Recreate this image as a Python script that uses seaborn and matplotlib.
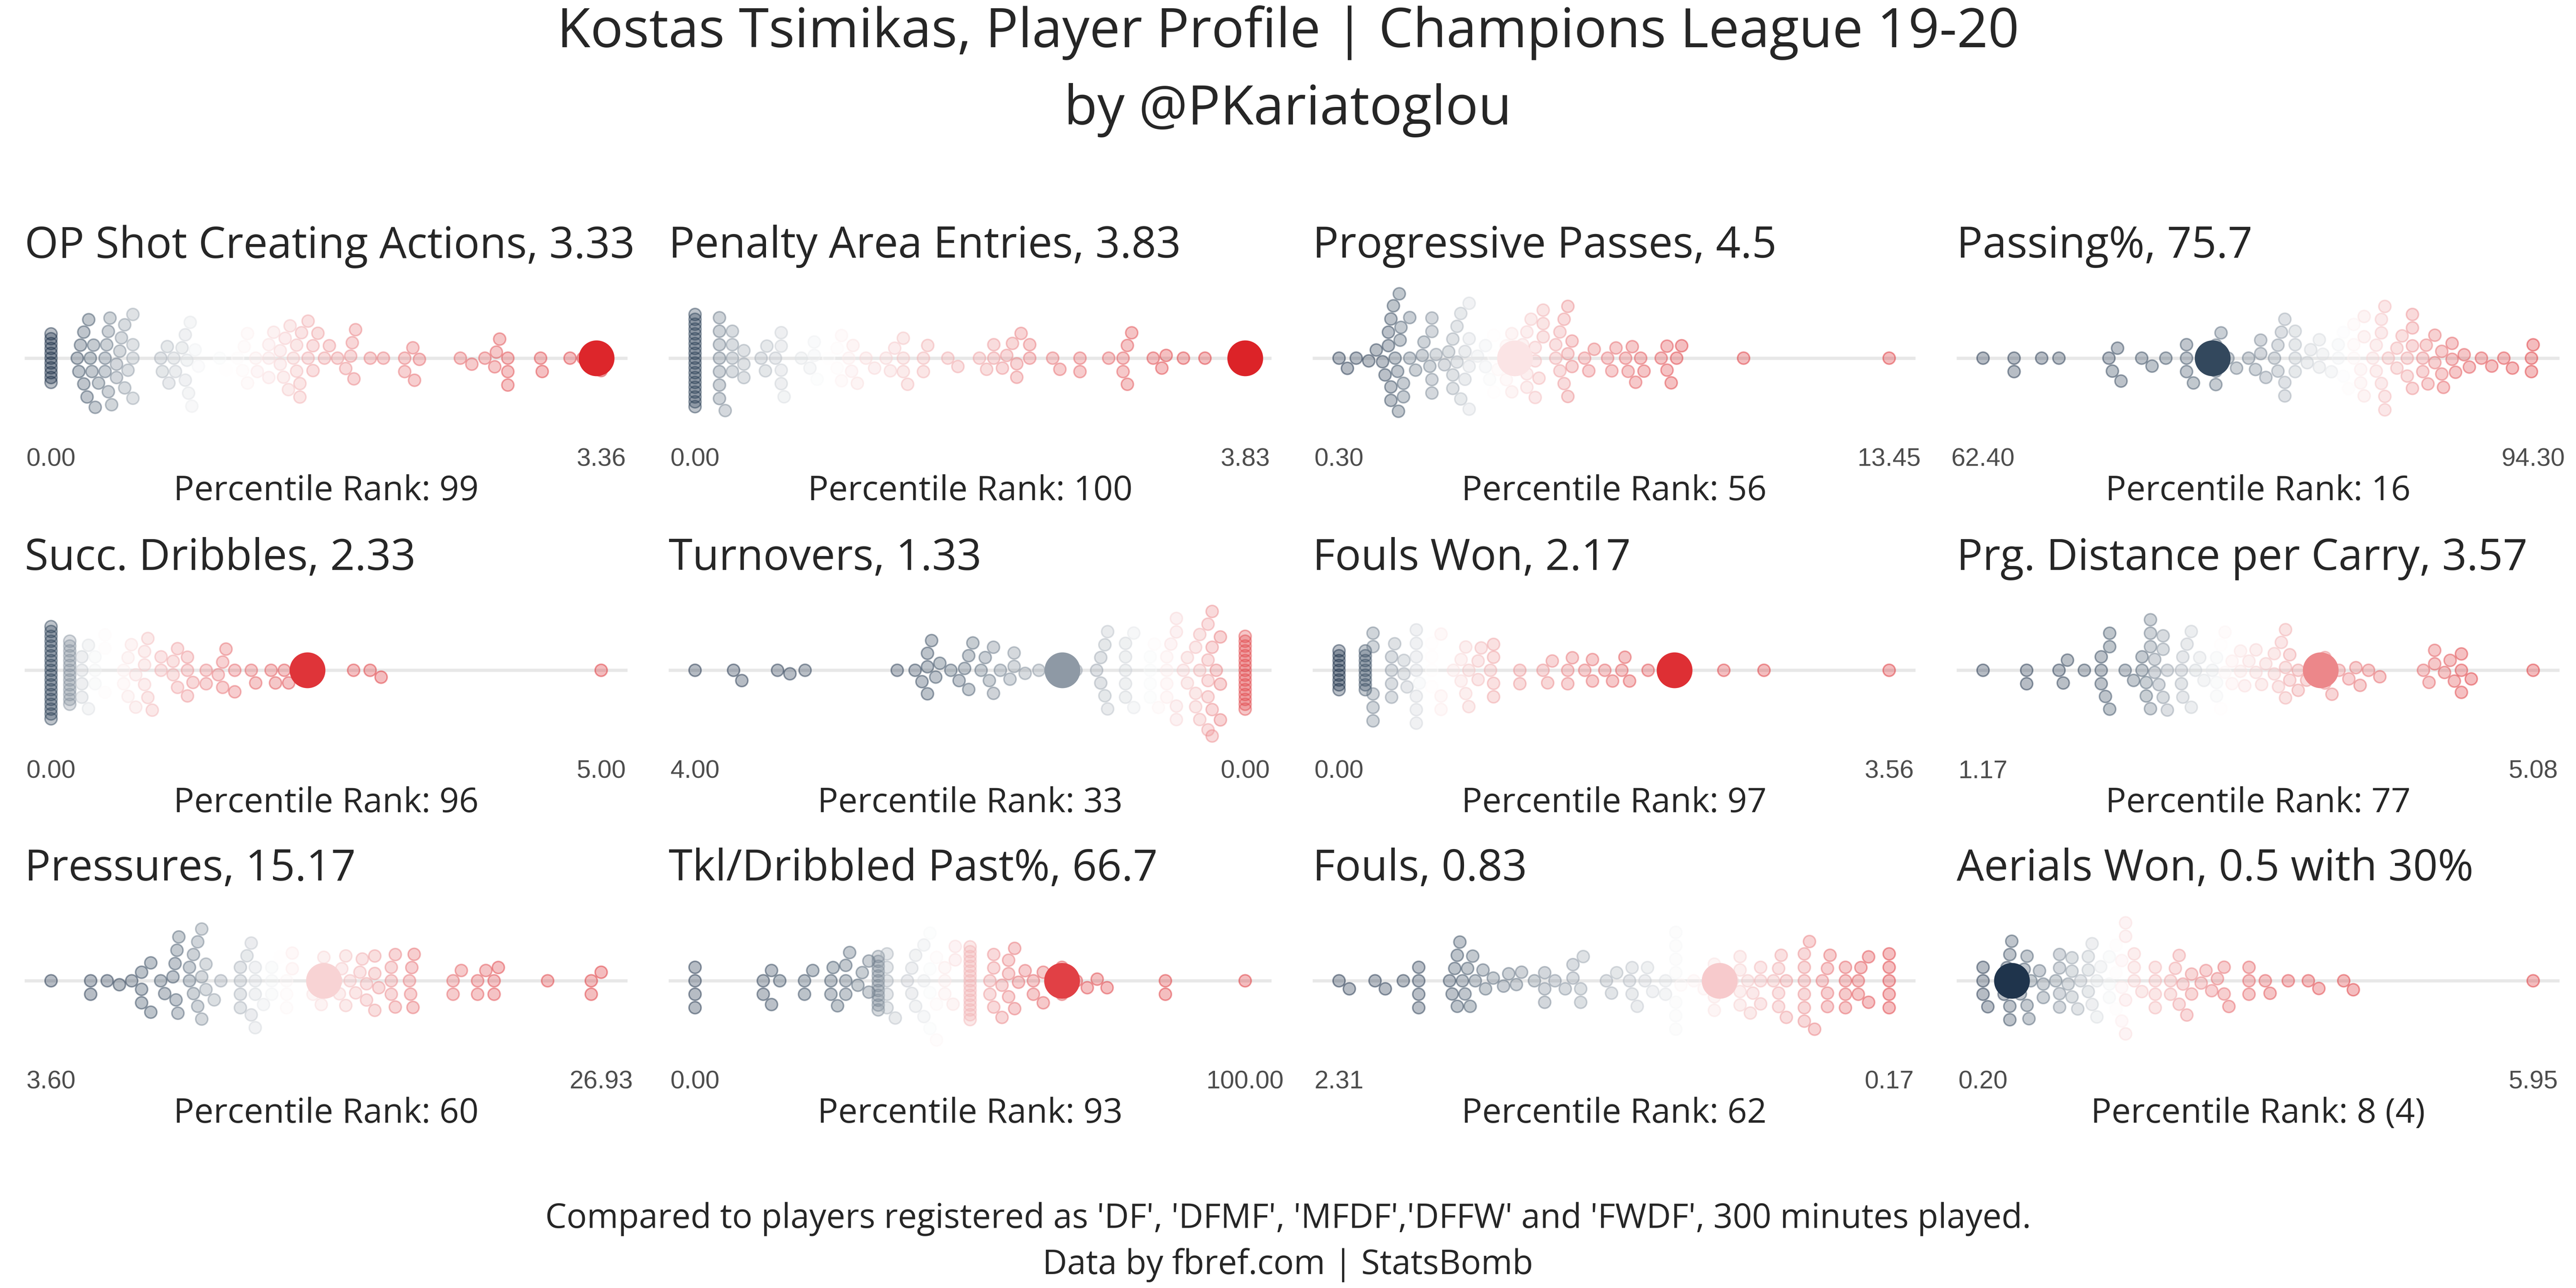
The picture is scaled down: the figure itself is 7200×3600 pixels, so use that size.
import numpy as np
import pandas as pd
import matplotlib
matplotlib.use("Agg")
import matplotlib.pyplot as plt
import seaborn as sns
from matplotlib.colors import LinearSegmentedColormap

# ------------------------------------------------------------------
# Data (values per 90 read off the reference swarms)
# ------------------------------------------------------------------
metrics = ["OP Shot Creating Actions", "Penalty Area Entries", "Progressive Passes",
           "Passing%", "Succ. Dribbles", "Turnovers", "Fouls Won",
           "Prg. Distance per Carry", "Pressures", "Tkl/Dribbled Past%", "Fouls",
           "Aerials Won"]
player_values = [3.33, 3.83, 4.5, 75.7, 2.33, 1.33, 2.17, 3.57, 15.17, 66.7, 0.83, 0.5]
title_extra = ["", "", "", "", "", "", "", "", "", "", "", " with 30%"]
rank_values = [99, 100, 56, 16, 96, 33, 97, 77, 60, 93, 62, 8]
rank_labels = ["99", "100", "56", "16", "96", "33", "97", "77", "60", "93", "62", "8 (4)"]
lower_is_better = [False, False, False, False, False, True,
                   False, False, False, False, True, False]

op_sca = [0.00, 0.00, 0.00, 0.00, 0.00, 0.00, 0.00, 0.00, 0.00, 0.00, 0.00,
          0.16, 0.17, 0.18, 0.20, 0.20, 0.22, 0.23, 0.24, 0.25, 0.26, 0.27, 0.29,
          0.33, 0.33, 0.34, 0.35, 0.35, 0.36, 0.37, 0.40, 0.40, 0.42, 0.43, 0.45,
          0.45, 0.47, 0.50, 0.50, 0.50, 0.50,
          0.67, 0.68, 0.71, 0.72, 0.75, 0.76, 0.80, 0.82, 0.82, 0.83, 0.84, 0.85,
          0.86, 0.88, 0.90,
          1.03, 1.07, 1.14, 1.17, 1.18, 1.20, 1.20, 1.25, 1.26,
          1.33, 1.33, 1.33, 1.36, 1.40, 1.40, 1.42, 1.43, 1.45, 1.46, 1.48, 1.50,
          1.50, 1.52, 1.52, 1.53, 1.57, 1.57, 1.60, 1.60,
          1.63, 1.67, 1.70, 1.75, 1.80, 1.83, 1.84, 1.85, 1.86, 1.95,
          2.03, 2.16, 2.16, 2.21, 2.22, 2.25,
          2.50, 2.57, 2.65, 2.71, 2.72, 2.74, 2.79, 2.79, 2.79,
          2.99, 3.00, 3.17, 3.25, 3.33, 3.36]

pen_area = [0.00, 0.00, 0.00, 0.00, 0.00, 0.00, 0.00, 0.00, 0.00, 0.00,
            0.00, 0.00, 0.00, 0.00, 0.00, 0.00, 0.00, 0.00, 0.00, 0.00,
            0.17, 0.17, 0.17, 0.17, 0.17, 0.17, 0.17, 0.21, 0.26, 0.26, 0.26, 0.26,
            0.34, 0.34, 0.34,
            0.46, 0.49, 0.50, 0.56, 0.60, 0.60, 0.60, 0.60, 0.62,
            0.74, 0.80, 0.83, 0.83, 0.85, 0.93, 0.99, 0.99, 1.02, 1.02, 1.07, 1.09,
            1.10, 1.13, 1.19,
            1.25, 1.33, 1.36, 1.39, 1.45, 1.45, 1.45, 1.48, 1.59, 1.59, 1.62,
            1.76, 1.83,
            1.98, 2.03, 2.08, 2.08, 2.14, 2.17, 2.21, 2.24, 2.24, 2.27, 2.33, 2.33,
            2.49, 2.54, 2.68, 2.68,
            2.88, 2.98, 2.98, 3.01, 3.01, 3.04,
            3.19, 3.25, 3.28, 3.40, 3.55, 3.83]

prog_passes = [0.30, 0.50, 0.71, 1.01,
               1.19, 1.34, 1.40, 1.48, 1.48, 1.54, 1.54, 1.54, 1.60, 1.64,
               1.70, 1.72, 1.74, 1.76, 1.78, 1.84, 1.84,
               1.99, 1.99, 2.13, 2.29, 2.33, 2.47, 2.52, 2.52, 2.52, 2.52, 2.62,
               2.82, 2.92, 3.02, 3.02, 3.02,
               3.12, 3.12, 3.21, 3.21, 3.31, 3.31, 3.41, 3.41, 3.41, 3.41, 3.61,
               3.80, 3.80, 3.90, 4.00, 4.00, 4.00, 4.10,
               4.30, 4.30, 4.30, 4.43, 4.43, 4.50, 4.69, 4.69, 4.79, 4.79, 4.79, 4.89,
               4.99, 4.99, 4.99, 5.08, 5.18, 5.18, 5.18,
               5.48, 5.48, 5.58, 5.58, 5.68, 5.68, 5.77, 5.77, 5.77, 5.87, 5.87,
               6.17, 6.27, 6.40,
               6.72, 6.82, 6.92, 7.15, 7.21, 7.31, 7.39, 7.51, 7.59,
               8.00, 8.14, 8.14, 8.24, 8.37, 8.49, 9.97, 13.45]

passing_pct = [62.4, 64.2, 64.2, 65.8, 66.8, 69.7, 69.9, 70.2, 70.4, 71.6, 72.2,
               73.0, 74.2, 74.2, 74.2, 74.6, 75.7, 75.9, 75.9, 75.9, 76.2, 76.6,
               77.1, 77.8, 78.2, 78.5, 78.5, 78.8, 79.3, 79.5, 79.5, 79.7, 79.9,
               79.9, 79.9, 80.5, 80.5, 80.5, 80.5, 81.2, 81.4, 81.9, 81.9, 82.1,
               82.6, 83.0, 83.0, 83.3, 83.3, 83.6, 83.9, 83.9, 83.9, 84.3, 84.3,
               84.5, 84.5, 84.5, 85.0, 85.2, 85.2, 85.5, 85.5, 85.5, 85.7, 85.7,
               85.7, 85.9, 86.4, 86.4, 86.7, 87.0, 87.0, 87.3, 87.3, 87.3, 87.3,
               87.9, 87.9, 88.1, 88.2, 88.6, 88.6, 89.0, 89.0, 89.1, 89.6, 89.6,
               89.8, 90.3, 90.6, 91.3, 91.9, 92.6, 93.1, 94.2, 94.2, 94.3]

succ_dribbles = [0.00, 0.00, 0.00, 0.00, 0.00, 0.00, 0.00, 0.00, 0.00, 0.00,
                 0.00, 0.00, 0.00, 0.00, 0.00, 0.00, 0.00, 0.00, 0.00, 0.00,
                 0.17, 0.17, 0.17, 0.17, 0.17, 0.17, 0.17, 0.17, 0.17, 0.17,
                 0.17, 0.17, 0.17, 0.17,
                 0.28, 0.28, 0.28, 0.28, 0.34, 0.34, 0.40, 0.40, 0.40, 0.49, 0.49, 0.49,
                 0.66, 0.66, 0.70, 0.70, 0.73, 0.77, 0.77, 0.85, 0.85, 0.85, 0.88,
                 0.88, 0.92, 1.00, 1.00,
                 1.11, 1.11, 1.15, 1.15, 1.24, 1.24, 1.24, 1.29, 1.41, 1.41, 1.52,
                 1.56, 1.56, 1.59, 1.67, 1.67,
                 1.82, 1.86, 2.00, 2.04, 2.12, 2.16, 2.33,
                 2.75, 2.90, 3.00, 5.00]

turnovers = [4.00, 3.72, 3.66, 3.40, 3.31, 3.20, 2.53,
             2.40, 2.35, 2.31, 2.31, 2.31, 2.28, 2.25, 2.22,
             2.14, 2.08, 2.04, 2.01, 2.01, 1.98, 1.92, 1.89, 1.86, 1.83, 1.83,
             1.78, 1.71, 1.68, 1.68, 1.60, 1.50, 1.33, 1.23,
             1.08, 1.05, 1.05, 1.02, 1.02, 1.00, 1.00, 0.87, 0.87, 0.87, 0.87,
             0.87, 0.81, 0.81,
             0.69, 0.69, 0.69, 0.69, 0.66, 0.63, 0.57, 0.57, 0.57, 0.57, 0.54,
             0.50, 0.50, 0.50, 0.50, 0.45,
             0.42, 0.42, 0.36, 0.36, 0.36, 0.33, 0.33, 0.33, 0.27, 0.27, 0.27,
             0.27, 0.27, 0.24, 0.24, 0.24, 0.24, 0.21, 0.18, 0.18, 0.18,
             0.00, 0.00, 0.00, 0.00, 0.00, 0.00, 0.00, 0.00, 0.00, 0.00, 0.00,
             0.00, 0.00, 0.00, 0.00, 0.00]

fouls_won = [0.00, 0.00, 0.00, 0.00, 0.00, 0.00, 0.00, 0.00, 0.00,
             0.17, 0.17, 0.17, 0.17, 0.17, 0.17, 0.17, 0.17, 0.17,
             0.22, 0.22, 0.22, 0.22, 0.22,
             0.34, 0.34, 0.34, 0.34, 0.36, 0.42, 0.42, 0.44, 0.50, 0.50, 0.50,
             0.50, 0.50, 0.50, 0.50, 0.52,
             0.60, 0.60, 0.60, 0.60, 0.66, 0.66, 0.66, 0.74, 0.79, 0.79, 0.82,
             0.82, 0.84, 0.84, 0.90, 0.90, 0.92, 0.98, 1.00, 1.00, 1.00, 1.00,
             1.17, 1.17, 1.32, 1.35, 1.38, 1.48, 1.48, 1.51, 1.59, 1.64, 1.64,
             1.72, 1.77, 1.83, 1.85, 1.88, 2.00,
             2.17, 2.49, 2.75, 3.56]

prg_carry = [1.17, 1.48, 1.48, 1.71, 1.74, 1.77,
             1.89, 2.01, 2.01, 2.01, 2.04, 2.07, 2.07, 2.07,
             2.18, 2.24, 2.30, 2.30, 2.33, 2.33, 2.36, 2.36, 2.36, 2.36, 2.39,
             2.39, 2.42, 2.45, 2.45, 2.45, 2.48, 2.48,
             2.58, 2.58, 2.59, 2.59, 2.62, 2.65, 2.65, 2.68, 2.71, 2.74, 2.80,
             2.83, 2.83, 2.83, 2.86, 2.86, 2.89, 2.89, 2.94, 2.94,
             3.00, 3.00, 3.03, 3.06, 3.11, 3.11, 3.15, 3.18, 3.24, 3.24, 3.27,
             3.29, 3.32, 3.32, 3.32, 3.35, 3.35, 3.41, 3.41, 3.47, 3.57,
             3.60, 3.60, 3.65, 3.70, 3.77, 3.82, 3.85, 3.91, 3.99,
             4.30, 4.34, 4.38, 4.38, 4.45, 4.49, 4.52, 4.57, 4.57, 4.57, 4.64,
             5.08]

pressures = [3.60, 5.28, 5.28, 5.98, 6.50,
             7.02, 7.44, 7.44, 7.44, 7.83, 7.83, 8.25, 8.42, 8.77, 8.86, 8.90,
             8.94, 8.98, 9.02, 9.47, 9.47, 9.64, 9.64, 9.82, 9.82, 9.99, 9.99,
             9.99, 10.17, 10.17, 10.52, 10.80,
             11.63, 11.63, 11.63, 11.63, 11.91, 12.09, 12.09, 12.26, 12.26, 12.26,
             12.26, 12.61, 12.96, 12.96, 12.96, 13.31, 13.59, 13.59, 13.59, 13.83,
             13.83,
             14.71, 14.71, 15.06, 15.06, 15.17, 15.69, 15.83, 15.93, 16.10, 16.10,
             16.28, 16.52, 16.70, 16.80, 16.98, 16.98, 17.33, 17.33, 17.33, 17.50,
             18.03, 18.03, 18.03, 18.20, 18.20, 18.80, 18.85, 18.90, 18.95, 19.00,
             20.65, 20.65, 21.00, 21.69, 21.69, 22.04, 22.39, 22.39, 22.57,
             24.66, 26.51, 26.51, 26.93]

tkl_dribbled = [0.0, 0.0, 0.0, 0.0,
                12.4, 12.4, 13.9, 13.9, 15.4, 19.9, 19.9, 21.4,
                24.7, 24.7, 25.1, 25.9, 27.4, 27.4, 27.4, 28.1, 29.6, 30.4,
                31.6, 31.6, 33.3, 33.3, 33.3, 33.3, 33.3, 33.3, 33.3, 33.3, 33.3,
                33.3, 33.3, 33.3, 34.9, 34.9, 34.9, 34.9, 34.9, 36.4,
                38.6, 39.4, 39.4, 40.1, 40.1, 41.6, 41.6, 41.6, 42.7, 42.7, 42.7,
                42.7, 43.9, 43.9, 43.9, 45.4, 45.4, 45.4, 46.9, 47.3, 47.3,
                50.0, 50.0, 50.0, 50.0, 50.0, 50.0, 50.0, 50.0, 50.0, 50.0, 50.0,
                50.0, 50.0, 50.0, 50.0, 50.0,
                53.6, 53.6, 54.3, 54.3, 54.3, 55.8, 55.8, 57.0, 57.0, 57.0, 58.1,
                58.1, 58.8, 60.0, 61.5, 61.5,
                63.3, 63.3, 66.7, 66.7, 66.7, 69.3, 71.3, 73.1, 74.9,
                85.5, 85.5, 100.0]

fouls = [2.31, 2.27, 2.17, 2.13, 2.06, 2.00, 2.00, 2.00, 2.00,
         1.88, 1.87, 1.86, 1.85, 1.85, 1.84, 1.83, 1.82, 1.81, 1.80, 1.79, 1.78,
         1.75, 1.74, 1.71, 1.67, 1.65, 1.62, 1.60, 1.55, 1.51, 1.51, 1.51, 1.47,
         1.43, 1.40, 1.40, 1.37, 1.37, 1.36,
         1.27, 1.25, 1.23, 1.18, 1.17, 1.17, 1.15, 1.12, 1.11, 1.09, 1.04, 1.04,
         1.00, 1.00, 1.00, 1.00, 1.00, 1.00, 1.00, 0.98,
         0.93, 0.89, 0.87, 0.85, 0.85, 0.85, 0.83, 0.78,
         0.75, 0.75, 0.75, 0.75, 0.72, 0.71, 0.70, 0.67, 0.67, 0.67, 0.62, 0.60,
         0.60, 0.60, 0.59, 0.57, 0.57,
         0.50, 0.50, 0.50, 0.50, 0.50, 0.50, 0.48, 0.46, 0.43, 0.41, 0.41, 0.41,
         0.40,
         0.34, 0.34, 0.34, 0.34, 0.29, 0.29, 0.28, 0.25, 0.25,
         0.17, 0.17, 0.17, 0.17, 0.17]

aerials_won = [0.20, 0.20, 0.20, 0.25,
               0.42, 0.42, 0.45, 0.48, 0.48, 0.48, 0.50, 0.56, 0.59,
               0.63, 0.66, 0.66, 0.68, 0.70,
               0.79, 0.83, 0.83, 0.96, 1.00, 1.00, 1.00, 1.00,
               1.09, 1.13, 1.13, 1.13, 1.19, 1.22, 1.30, 1.30, 1.30, 1.34, 1.34,
               1.39, 1.39, 1.43, 1.52, 1.52, 1.52,
               1.59, 1.59, 1.59, 1.65, 1.65, 1.65, 1.69, 1.69, 1.69, 1.69, 1.78,
               1.78, 1.78, 1.86, 2.00, 2.00, 2.00, 2.00,
               2.16, 2.16, 2.21, 2.25, 2.25, 2.29, 2.33, 2.38, 2.38, 2.48, 2.53,
               2.59, 2.65, 2.72, 2.72, 2.77, 2.98, 2.98, 2.98, 3.15, 3.20,
               3.39, 3.60, 3.71, 3.97, 4.07, 5.95]

distributions = [op_sca, pen_area, prog_passes, passing_pct, succ_dribbles,
                 turnovers, fouls_won, prg_carry, pressures, tkl_dribbled,
                 fouls, aerials_won]

# ------------------------------------------------------------------
# Style
# ------------------------------------------------------------------
sns.set_theme(style="white")
plt.rcParams["font.family"] = ["Open Sans", "DejaVu Sans"]

cmap = LinearSegmentedColormap.from_list(
    "rank", [(0.0, "#0b1f3a"), (0.16, "#34495e"), (0.33, "#8e99a5"),
             (0.5, "#ffffff"), (1.0, "#dc2328")])

LAYOUT_SIZE = 8.6    # spacing used by the swarm for ordinary points (pt)
TIE_SIZE = 3.1       # tighter stacking for large groups of identical values (pt)
TIE_MIN = 8          # group size from which identical values get stacked tightly
DOT = 8.1            # drawn marker size (pt)
BIG = 24             # player marker (pt)
W, H = 1568, 784     # layout grid
ROW_LINE = [218, 408, 597]

fig = plt.figure(figsize=(24, 12), dpi=300)

swarms = []
for i, values in enumerate(distributions):
    r, c = divmod(i, 4)
    ly = ROW_LINE[r]
    ax = fig.add_axes([(15 + 392 * c) / W, 1 - (ly + 50) / H, 367 / W, 100 / H])

    df = pd.DataFrame({"value": values})
    pct = df["value"].rank(pct=True) * 100
    if lower_is_better[i]:
        pct = 100 - pct
    df["pct"] = pct
    df["row"] = "all"

    sns.swarmplot(data=df, x="value", y="row", hue="pct", palette=cmap,
                  hue_norm=(0, 100), size=LAYOUT_SIZE, linewidth=0,
                  legend=False, warn_thresh=1, ax=ax)
    coll = ax.collections[-1]
    # per-point spacing for the swarm: big tie groups are stacked tightly
    xs = pd.Series(coll.get_offsets()[:, 0])
    group_n = xs.map(xs.value_counts())
    layout = np.where(group_n >= TIE_MIN, TIE_SIZE, LAYOUT_SIZE)
    coll.set_sizes(layout ** 2)
    swarms.append(coll)

    ax.axhline(0, color="#e8e8e8", lw=2.2, zorder=0)
    ax.scatter([player_values[i]], [0], s=BIG ** 2,
               color=cmap(rank_values[i] / 100), linewidth=0, zorder=6)

    lo, hi = min(values), max(values)
    pad = (hi - lo) * 0.048
    ax.set_xlim(lo - pad, hi + pad)
    if lower_is_better[i]:
        ax.invert_xaxis()
    ax.set_ylim(-0.5, 0.5)
    ax.set_xticks([lo, hi], [f"{lo:.2f}", f"{hi:.2f}"])
    ax.set_yticks([])
    ax.set_xlabel("")
    ax.set_ylabel("")
    ax.tick_params(axis="x", length=0, pad=5, labelsize=17, labelcolor="#4d4d4d")
    for lab in ax.get_xticklabels():
        lab.set_fontfamily(["Liberation Sans", "DejaVu Sans"])
    sns.despine(ax=ax, left=True, bottom=True)

    ax.text(0, 1.18, f"{metrics[i]}, {player_values[i]:g}{title_extra[i]}",
            transform=ax.transAxes, ha="left", va="center", fontsize=29)
    ax.text(0.5, -0.31, f"Percentile Rank: {rank_labels[i]}",
            transform=ax.transAxes, ha="center", va="center", fontsize=23)

# lay the swarms out, then freeze them and switch to the see-through dots
fig.canvas.draw()
for coll in swarms:
    if "draw" in vars(coll):
        del coll.draw
    fc = coll.get_facecolors().copy()
    ec = fc.copy()
    fc[:, 3] = 0.3
    ec[:, 3] = 0.45
    coll.set_sizes([DOT ** 2])
    coll.set_facecolor(fc)
    coll.set_edgecolor(ec)
    coll.set_linewidth(1.0)

fig.text(0.5, 1 - 20 / H, "Kostas Tsimikas, Player Profile | Champions League 19-20",
         ha="center", va="center", fontsize=36.5)
fig.text(0.5, 1 - 67 / H, "by @PKariatoglou", ha="center", va="center", fontsize=36.5)
fig.text(0.5, 1 - 742 / H,
         "Compared to players registered as 'DF', 'DFMF', 'MFDF','DFFW' and 'FWDF', "
         "300 minutes played.", ha="center", va="center", fontsize=22.7)
fig.text(0.5, 1 - 770 / H, "Data by fbref.com | StatsBomb",
         ha="center", va="center", fontsize=22.7)

fig.savefig("out.png", dpi=300, facecolor="white")
